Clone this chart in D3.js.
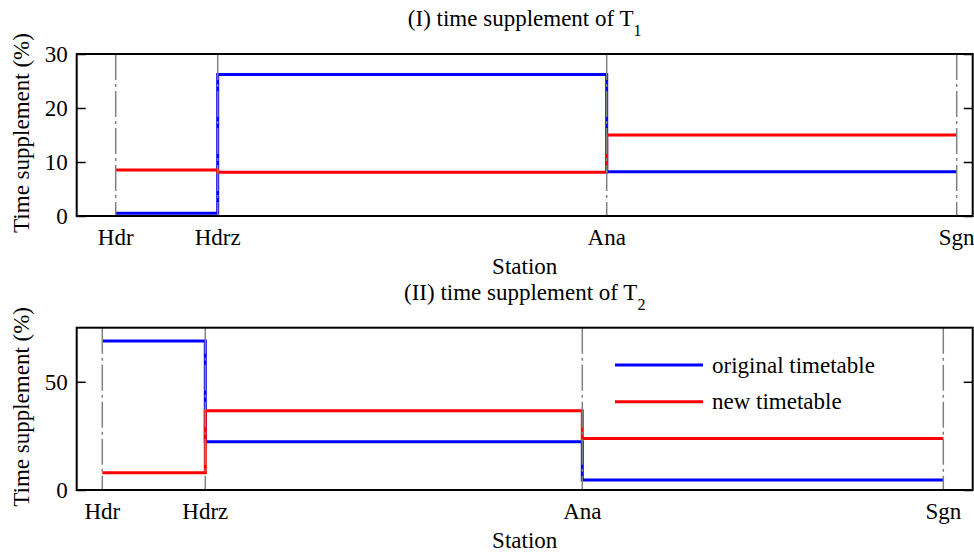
<!DOCTYPE html>
<html>
<head>
<meta charset="utf-8">
<script src="https://cdn.jsdelivr.net/npm/d3@7"></script>
<style>
  html, body { margin: 0; padding: 0; background: #fff; }
  text { font-family: "Liberation Serif", "Times New Roman", serif; fill: #000; }
</style>
</head>
<body>
<svg id="chart" width="974" height="554"></svg>
<script>
// ---- data ----
const stations = ["Hdr", "Hdrz", "Ana", "Sgn"];
// station positions along the run (minutes from Hdr) for each train
const stationPosT1 = [0, 10.2, 49.1, 84.1];
const stationPosT2 = [0, 10.3, 48.0, 84.1];
// time supplement per section (%), sections Hdr-Hdrz, Hdrz-Ana, Ana-Sgn
const originalT1 = [0.5, 26.2, 8.2];
const newT1 = [8.5, 8.1, 15.0];
const originalT2 = [68.8, 22.3, 4.6];
const newT2 = [8.0, 36.6, 23.8];
const yTicksT1 = [0, 10, 20, 30];
const yTicksT2 = [0, 50];
const seriesNames = ["original timetable", "new timetable"];
const seriesColors = ["#0000ff", "#ff0000"];

const FS = "23px";
const svg = d3.select("#chart");
svg.append("rect").attr("width", 974).attr("height", 554).attr("fill", "#fff");

function panel(cfg) {
  const g = svg.append("g");
  const x = d3.scaleLinear().domain(cfg.xDomain).range([76.7, 972.7]);
  const y = d3.scaleLinear().domain(cfg.yDomain).range([cfg.bottom, cfg.top]);

  const steps = vals => stations.map((s, i) => [cfg.pos[i], vals[Math.min(i, vals.length - 1)]]);
  const line = d3.line().x(d => x(d[0])).y(d => y(d[1])).curve(d3.curveStepAfter);

  // series
  cfg.series.forEach((vals, k) => {
    g.append("path").attr("d", line(steps(vals)))
      .attr("fill", "none").attr("stroke", seriesColors[k]).attr("stroke-width", 3);
  });

  // station lines
  g.selectAll("line.st").data(cfg.pos).join("line")
    .attr("x1", d => x(d)).attr("x2", d => x(d))
    .attr("y1", cfg.top).attr("y2", cfg.bottom)
    .attr("stroke", "#808080").attr("stroke-width", 1.5)
    .attr("stroke-dasharray", "26,4,3,4");

  // left axis ticks (inward) and labels
  const yAxisL = d3.axisLeft(y).tickValues(cfg.yTicks).tickSize(-9).tickPadding(9);
  const gl = g.append("g").attr("transform", "translate(76.7,0)").call(yAxisL);
  gl.select(".domain").remove();
  gl.selectAll("line").attr("stroke", "#000").attr("stroke-width", 1.5);
  gl.selectAll("text").style("font-size", FS).style("font-family", "Liberation Serif");
  const yAxisR = d3.axisRight(y).tickValues(cfg.yTicks).tickSize(-9).tickFormat("");
  const gr = g.append("g").attr("transform", "translate(972.7,0)").call(yAxisR);
  gr.select(".domain").remove();
  gr.selectAll("line").attr("stroke", "#000").attr("stroke-width", 1.5);

  // box
  g.append("rect").attr("x", 76.7).attr("y", cfg.top)
    .attr("width", 896).attr("height", cfg.bottom - cfg.top)
    .attr("fill", "none").attr("stroke", "#000").attr("stroke-width", 2);

  // station labels
  g.selectAll("text.sl").data(stations).join("text")
    .attr("x", (d, i) => x(cfg.pos[i])).attr("y", cfg.bottom + 29)
    .attr("text-anchor", "middle").style("font-size", FS).text(d => d);

  // x label
  g.append("text").attr("x", 524.7).attr("y", cfg.bottom + 58)
    .attr("text-anchor", "middle").style("font-size", FS).text("Station");

  // y label
  g.append("text").attr("transform", `translate(29,${(cfg.top + cfg.bottom) / 2 - 2}) rotate(-90)`)
    .attr("text-anchor", "middle").style("font-size", FS).text("Time supplement (%)");

  // title
  const t = g.append("text").attr("x", 524.7).attr("y", cfg.top - 28)
    .attr("text-anchor", "middle").style("font-size", FS);
  t.append("tspan").text(cfg.title);
  t.append("tspan").attr("dy", 10).style("font-size", "16px").text(cfg.sub);

  return { g, x, y };
}

panel({
  top: 54, bottom: 216, xDomain: [-3.9, 85.7], yDomain: [0, 30], pos: stationPosT1,
  yTicks: yTicksT1, series: [originalT1, newT1], title: "(I) time supplement of T", sub: "1"
});
panel({
  top: 327.7, bottom: 490, xDomain: [-2.56, 87.04], yDomain: [0, 75], pos: stationPosT2,
  yTicks: yTicksT2, series: [originalT2, newT2], title: "(II) time supplement of T", sub: "2"
});

// legend (in panel II)
const leg = svg.append("g");
seriesNames.forEach((name, k) => {
  const yy = 365 + k * 36.7;
  leg.append("line").attr("x1", 615).attr("x2", 703).attr("y1", yy).attr("y2", yy)
    .attr("stroke", seriesColors[k]).attr("stroke-width", 3);
  leg.append("text").attr("x", 712).attr("y", yy + 7.5).style("font-size", FS).text(name);
});
</script>
</body>
</html>
